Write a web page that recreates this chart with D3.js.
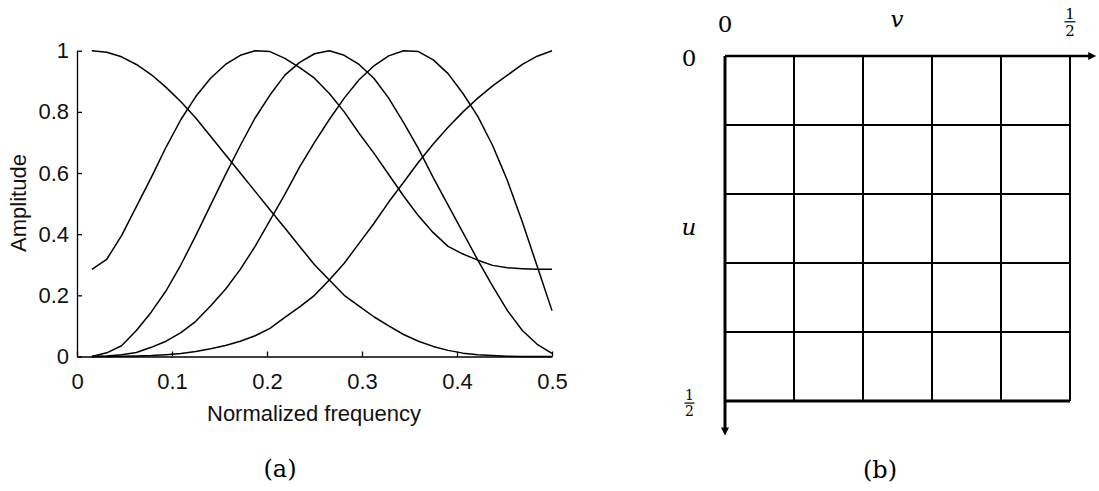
<!DOCTYPE html>
<html>
<head>
<meta charset="utf-8">
<script src="https://cdn.jsdelivr.net/npm/d3@7"></script>
<style>
  html, body { margin: 0; padding: 0; background: #fff; }
  svg { display: block; }
</style>
</head>
<body>
<div id="chart"></div>
<script>
// Panel (a) data: sampled filter responses vs normalized frequency
const freq = [0.0156, 0.0313, 0.0469, 0.0625, 0.0781, 0.0938, 0.1094, 0.125,
    0.1406, 0.1563, 0.1719, 0.1875, 0.2031, 0.2188, 0.2344, 0.25,
    0.2656, 0.2813, 0.2969, 0.3125, 0.3281, 0.3438, 0.3594, 0.375,
    0.3906, 0.4063, 0.4219, 0.4375, 0.4531, 0.4688, 0.4844, 0.5];

const band1 = [1.0, 0.995, 0.98, 0.955, 0.922, 0.88, 0.833, 0.78,
    0.72, 0.66, 0.60, 0.54, 0.48, 0.42, 0.36, 0.30,
    0.25, 0.20, 0.165, 0.13, 0.10, 0.072, 0.05, 0.033,
    0.02, 0.011, 0.006, 0.003, 0.001, 0, 0, 0];
const band2 = [0.285, 0.318, 0.395, 0.49, 0.585, 0.685, 0.775, 0.85,
    0.91, 0.955, 0.985, 1.0, 0.997, 0.975, 0.945, 0.91,
    0.86, 0.80, 0.73, 0.665, 0.595, 0.525, 0.46, 0.405,
    0.36, 0.335, 0.315, 0.298, 0.29, 0.287, 0.285, 0.285];
const band3 = [0, 0.012, 0.035, 0.085, 0.145, 0.215, 0.30, 0.395,
    0.495, 0.595, 0.69, 0.78, 0.855, 0.92, 0.962, 0.99,
    1.0, 0.985, 0.955, 0.91, 0.845, 0.765, 0.68, 0.585,
    0.495, 0.405, 0.315, 0.23, 0.15, 0.085, 0.04, 0.01];
const band4 = [0, 0.002, 0.006, 0.013, 0.03, 0.05, 0.078, 0.115,
    0.165, 0.22, 0.285, 0.36, 0.445, 0.53, 0.62, 0.70,
    0.775, 0.845, 0.905, 0.95, 0.983, 1.0, 0.997, 0.97,
    0.925, 0.86, 0.785, 0.69, 0.575, 0.44, 0.295, 0.15];
const band5 = [0, 0, 0.001, 0.002, 0.003, 0.006, 0.01, 0.016,
    0.025, 0.036, 0.05, 0.068, 0.092, 0.128, 0.162, 0.2,
    0.25, 0.305, 0.37, 0.435, 0.505, 0.57, 0.635, 0.695,
    0.75, 0.80, 0.845, 0.885, 0.92, 0.955, 0.982, 1.0];
const bands = [band1, band2, band3, band4, band5];

const xTicks = [0, 0.1, 0.2, 0.3, 0.4, 0.5];
const yTicks = [0, 0.2, 0.4, 0.6, 0.8, 1];

// Panel (b) data: frequency grid
const gridTicks = [0, 0.1, 0.2, 0.3, 0.4, 0.5];

const width = 1099, height = 491;
const sansFont = "'Liberation Sans', Arial, sans-serif";
const serifFont = "'DejaVu Serif', serif";

const svg = d3.select('#chart').append('svg')
    .attr('width', width).attr('height', height)
    .attr('viewBox', `0 0 ${width} ${height}`);

svg.append('rect').attr('width', width).attr('height', height).attr('fill', '#fff');

// ---------- (a) ----------
const x = d3.scaleLinear().domain([0, 0.5]).range([77, 552]);
const y = d3.scaleLinear().domain([0, 1]).range([356.5, 50.7]);

const plotA = svg.append('g').attr('class', 'panel-a');

const xAxis = plotA.append('g')
    .attr('transform', `translate(0,${y(0)})`)
    .call(d3.axisBottom(x).tickValues(xTicks).tickSizeInner(-5).tickSizeOuter(0)
        .tickPadding(17).tickFormat(d => d === 0 ? '0' : d3.format('.1f')(d)));

const yAxis = plotA.append('g')
    .attr('transform', `translate(${x(0)},0)`)
    .call(d3.axisLeft(y).tickValues(yTicks).tickSizeInner(-5).tickSizeOuter(0)
        .tickPadding(8).tickFormat(d => (d === 0 || d === 1) ? String(d) : d3.format('.1f')(d)));

[xAxis, yAxis].forEach(ax => {
    ax.attr('font-family', sansFont).attr('font-size', 22);
    ax.selectAll('path, line').attr('stroke', '#000').attr('stroke-width', 1.3);
    ax.selectAll('text').attr('fill', '#111');
});

const line = d3.line()
    .x((d, i) => x(freq[i]))
    .y(d => y(d));

plotA.append('g').selectAll('.band')
    .data(bands)
    .join('path')
    .attr('class', 'band')
    .attr('d', line)
    .attr('fill', 'none')
    .attr('stroke', '#000')
    .attr('stroke-width', 1.5)
    .attr('stroke-linejoin', 'round');

plotA.append('text')
    .attr('x', 314).attr('y', 421)
    .attr('text-anchor', 'middle')
    .attr('font-family', sansFont).attr('font-size', 22).attr('fill', '#111')
    .text('Normalized frequency');

plotA.append('text')
    .attr('transform', 'translate(26,203) rotate(-90)')
    .attr('text-anchor', 'middle')
    .attr('font-family', sansFont).attr('font-size', 22).attr('fill', '#111')
    .text('Amplitude');

plotA.append('text')
    .attr('x', 280).attr('y', 477)
    .attr('text-anchor', 'middle')
    .attr('font-family', serifFont).attr('font-size', 24)
    .text('(a)');

// ---------- (b) ----------
const v = d3.scaleLinear().domain([0, 0.5]).range([725, 1070]);
const u = d3.scaleLinear().domain([0, 0.5]).range([56, 401]);

const plotB = svg.append('g').attr('class', 'panel-b');

plotB.append('g').selectAll('.vline')
    .data(gridTicks.slice(1))
    .join('line')
    .attr('class', 'vline')
    .attr('x1', d => v(d)).attr('x2', d => v(d))
    .attr('y1', u(0)).attr('y2', u(0.5))
    .attr('stroke', '#000').attr('stroke-width', 2);

plotB.append('g').selectAll('.hline')
    .data(gridTicks.slice(1, -1))
    .join('line')
    .attr('class', 'hline')
    .attr('x1', v(0)).attr('x2', v(0.5))
    .attr('y1', d => u(d)).attr('y2', d => u(d))
    .attr('stroke', '#000').attr('stroke-width', 2);

// bottom edge is a bit heavier
plotB.append('line')
    .attr('x1', v(0)).attr('x2', v(0.5))
    .attr('y1', u(0.5)).attr('y2', u(0.5))
    .attr('stroke', '#000').attr('stroke-width', 2.8);

// axes with arrows
const vEnd = v(0.538), uEnd = u(0.55);
plotB.append('line')
    .attr('x1', v(0)).attr('x2', vEnd - 5)
    .attr('y1', u(0)).attr('y2', u(0))
    .attr('stroke', '#000').attr('stroke-width', 2.5);
plotB.append('path')
    .attr('d', `M${vEnd},${u(0)} L${vEnd - 8},${u(0) - 4} L${vEnd - 8},${u(0) + 4} Z`)
    .attr('fill', '#000');

plotB.append('line')
    .attr('x1', v(0)).attr('x2', v(0))
    .attr('y1', u(0)).attr('y2', uEnd - 5)
    .attr('stroke', '#000').attr('stroke-width', 3);
plotB.append('path')
    .attr('d', `M${v(0)},${uEnd} L${v(0) - 4},${uEnd - 8} L${v(0) + 4},${uEnd - 8} Z`)
    .attr('fill', '#000');

const serifText = (sel, tx, ty, size, txt, italic) => sel.append('text')
    .attr('x', tx).attr('y', ty)
    .attr('text-anchor', 'middle')
    .attr('font-family', serifFont).attr('font-size', size)
    .attr('font-style', italic ? 'italic' : 'normal')
    .text(txt);

serifText(plotB, v(0), 32, 23, '0');
serifText(plotB, 897, 27, 23, 'v', true);
serifText(plotB, 689, 66, 23, '0');
serifText(plotB, 689, 235, 23, 'u', true);

// fraction labels 1/2
function half(g, cx, top, size, barW) {
    serifText(g, cx, top, size, '1');
    g.append('line')
        .attr('x1', cx - barW / 2).attr('x2', cx + barW / 2)
        .attr('y1', top + size * 0.22).attr('y2', top + size * 0.22)
        .attr('stroke', '#000').attr('stroke-width', 1.2);
    serifText(g, cx, top + size * 1.15, size, '2');
}
half(plotB, v(0.5), 18.5, 15, 11);
half(plotB, 689.5, 400, 14, 10);

plotB.append('text')
    .attr('x', 880).attr('y', 478)
    .attr('text-anchor', 'middle')
    .attr('font-family', serifFont).attr('font-size', 24)
    .text('(b)');
</script>
</body>
</html>
